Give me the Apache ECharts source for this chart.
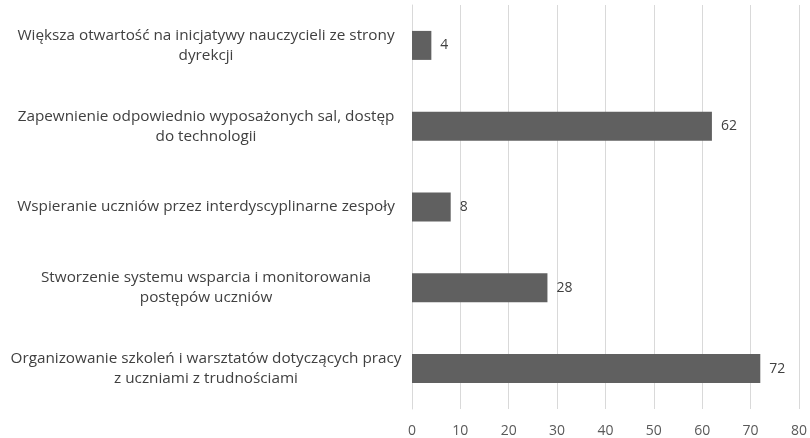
<!DOCTYPE html>
<html><head><meta charset="utf-8">
<script src="https://cdn.jsdelivr.net/npm/echarts@6/dist/echarts.min.js"></script>
<style>html,body{margin:0;padding:0;background:#fff}#c{width:810px;height:438px}</style>
</head><body><div id="c"></div>
<script>
const categories = [
  "Większa otwartość na inicjatywy nauczycieli ze strony\ndyrekcji",
  "Zapewnienie odpowiednio wyposażonych sal, dostęp\ndo technologii",
  "Wspieranie uczniów przez interdyscyplinarne zespoły",
  "Stworzenie systemu wsparcia i monitorowania\npostępów uczniów",
  "Organizowanie szkoleń i warsztatów dotyczących pracy\nz uczniami z trudnościami"
];
const values = [4, 62, 8, 28, 72];
const xTicks = [0, 10, 20, 30, 40, 50, 60, 70, 80];

const chart = echarts.init(document.getElementById('c'));
chart.setOption({
  animation: false,
  grid: { left: 412, right: 9, top: 5, bottom: 25, containLabel: false },
  xAxis: {
    type: 'value', min: xTicks[0], max: xTicks[xTicks.length - 1], interval: 10,
    axisLine: { show: false }, axisTick: { show: false },
    splitLine: { show: true, lineStyle: { color: '#d9d9d9', width: 1 } },
    axisLabel: { color: '#595959', fontSize: 14, fontFamily: 'Open Sans', margin: 15 }
  },
  yAxis: {
    type: 'category', data: categories, inverse: true,
    axisLine: { show: true, lineStyle: { color: '#d9d9d9' } }, axisTick: { show: false },
    axisLabel: { color: '#404040', fontSize: 15.3, fontFamily: 'Open Sans', align: 'center', margin: 206,
      lineHeight: 20 }
  },
  series: [{
    type: 'bar', data: values, barWidth: 29,
    itemStyle: { color: '#606060' },
    label: { show: true, position: 'right', distance: 9, color: '#404040', fontSize: 14, fontFamily: 'Open Sans' }
  }]
});
</script></body></html>
